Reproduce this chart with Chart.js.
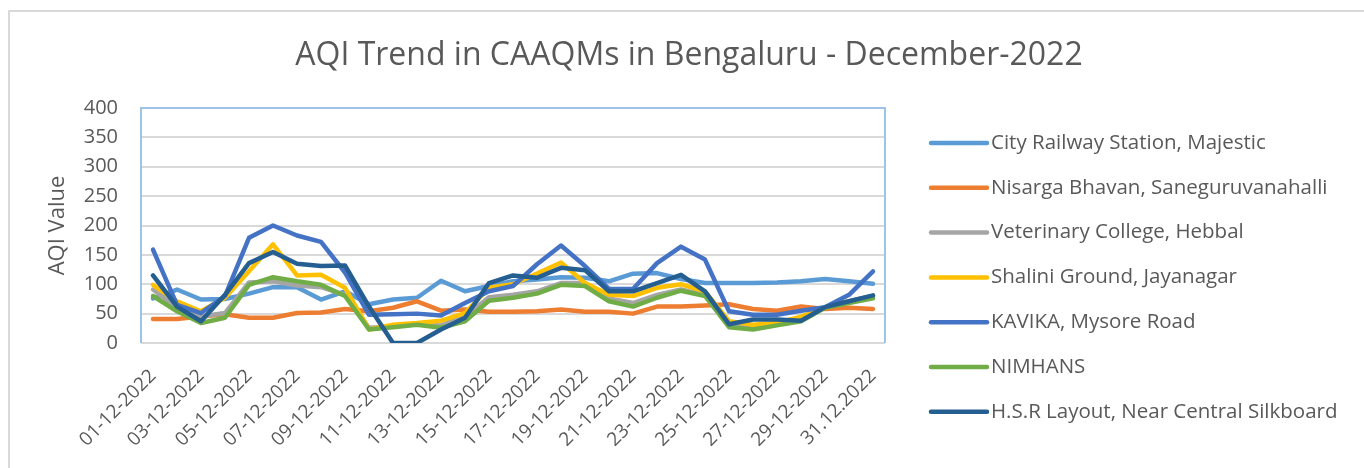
<!DOCTYPE html>
<html>
<head>
<meta charset="utf-8">
<script src="https://cdn.jsdelivr.net/npm/chart.js@4"></script>
<style>
    html, body { margin: 0; padding: 0; background: #fff; overflow: hidden; }
    #frame {
        position: absolute; left: 8px; top: 10px;
        width: 1400px; height: 500px;
        border: 2px solid #d9d9d9;
    }
    #aqiChart { position: absolute; left: 0; top: 0; }
</style>
</head>
<body>
<div id="frame"></div>
<canvas id="aqiChart" width="1364" height="468"></canvas>
<script>
const chartTitle = 'AQI Trend in CAAQMs in Bengaluru - December-2022';

const days = [
    '01-12-2022', '02-12-2022', '03-12-2022', '04-12-2022', '05-12-2022', '06-12-2022',
    '07-12-2022', '08-12-2022', '09-12-2022', '10-12-2022', '11-12-2022', '12-12-2022',
    '13-12-2022', '14-12-2022', '15-12-2022', '16-12-2022', '17-12-2022', '18-12-2022',
    '19-12-2022', '20-12-2022', '21-12-2022', '22-12-2022', '23-12-2022', '24-12-2022',
    '25-12-2022', '26-12-2022', '27-12-2022', '28-12-2022', '29-12-2022', '30-12-2022',
    '31.12.2022'
];

const stations = [
    'City Railway Station, Majestic',
    'Nisarga Bhavan, Saneguruvanahalli',
    'Veterinary College, Hebbal',
    'Shalini Ground, Jayanagar',
    'KAVIKA, Mysore Road',
    'NIMHANS',
    'H.S.R Layout, Near Central Silkboard'
];

const cityRailway = [76, 91, 74, 75, 84, 95, 95, 74, 88, 66, 74, 77, 106, 88, 97, 105, 108, 112, 111, 105, 118, 119, 109, 102, 102, 102, 103, 105, 109, 105, 101];
const nisarga     = [41, 41, 45, 49, 43, 43, 51, 52, 58, 54, 60, 71, 55, 57, 53, 53, 54, 57, 53, 53, 50, 62, 62, 64, 66, 58, 55, 62, 58, 60, 58];
const veterinary  = [91, 60, 45, 51, 103, 105, 98, 95, 82, 26, 28, 33, 30, 45, 78, 82, 88, 102, 102, 76, 68, 82, 91, 82, 31, 26, 32, 40, 60, 71, 80];
const shalini     = [99, 71, 54, 77, 122, 168, 115, 116, 94, 23, 31, 34, 38, 51, 94, 100, 118, 137, 102, 82, 80, 94, 100, 88, 37, 31, 34, 45, 60, 71, 77];
const kavika      = [159, 65, 51, 80, 179, 200, 183, 172, 120, 48, 49, 50, 47, 68, 88, 97, 134, 166, 131, 92, 92, 136, 164, 142, 54, 48, 48, 55, 61, 82, 122];
const nimhans     = [80, 54, 34, 43, 99, 112, 105, 99, 80, 23, 27, 31, 26, 37, 72, 77, 84, 99, 97, 71, 62, 77, 89, 80, 27, 23, 30, 37, 60, 68, 76];
const hsrLayout   = [115, 62, 37, 82, 136, 155, 135, 131, 132, 62, 0, 0, 23, 43, 102, 115, 111, 128, 124, 88, 88, 102, 116, 88, 32, 40, 40, 38, 61, 71, 81];

const colors = ['#5B9BD5', '#ED7D31', '#A5A5A5', '#FFC000', '#4472C4', '#70AD47', '#255E91'];
const seriesValues = [cityRailway, nisarga, veterinary, shalini, kavika, nimhans, hsrLayout];

const textColor = '#595959';
const fontFamily = '"Open Sans", "Noto Sans", sans-serif';

// frame around the plot area (light blue, like the excel plot area)
const plotBorder = {
    id: 'plotBorder',
    beforeDatasetsDraw(chart) {
        const a = chart.chartArea;
        const ctx = chart.ctx;
        ctx.save();
        ctx.strokeStyle = '#9DC3E6';
        ctx.lineWidth = 2;
        ctx.beginPath();
        ctx.moveTo(a.left, a.bottom);
        ctx.lineTo(a.left, a.top);
        ctx.lineTo(a.right, a.top);
        ctx.lineTo(a.right, a.bottom);
        ctx.stroke();
        ctx.restore();
    }
};

// title centred over the whole picture, not only the plot
const wideTitle = {
    id: 'wideTitle',
    afterDraw(chart, args, opts) {
        const ctx = chart.ctx;
        ctx.save();
        ctx.font = opts.fontSize + 'px ' + fontFamily;
        ctx.fillStyle = textColor;
        ctx.textAlign = 'center';
        ctx.textBaseline = 'middle';
        ctx.fillText(opts.text, opts.x, opts.y);
        ctx.restore();
    }
};

// legend on the right, drawn from the datasets
const sideLegend = {
    id: 'sideLegend',
    afterDraw(chart, args, opts) {
        const ctx = chart.ctx;
        ctx.save();
        ctx.font = opts.fontSize + 'px ' + fontFamily;
        ctx.textBaseline = 'middle';
        ctx.fillStyle = textColor;
        chart.data.datasets.forEach((ds, i) => {
            const y = opts.top + i * opts.step;
            ctx.strokeStyle = ds.borderColor;
            ctx.lineWidth = 4.5;
            ctx.lineCap = 'round';
            ctx.beginPath();
            ctx.moveTo(opts.left, y);
            ctx.lineTo(opts.left + opts.lineLength, y);
            ctx.stroke();
            ctx.fillText(ds.label, opts.left + opts.lineLength + 4, y);
        });
        ctx.restore();
    }
};

const ctx = document.getElementById('aqiChart');
const chart = new Chart(ctx, {
    type: 'line',
    data: {
        labels: days,
        datasets: stations.map((name, i) => ({
            label: name,
            data: seriesValues[i],
            borderColor: colors[i],
            backgroundColor: colors[i],
            borderWidth: 4.5,
            pointRadius: 0,
            tension: 0,
            borderJoinStyle: 'round',
            borderCapStyle: 'round',
            order: stations.length - i
        }))
    },
    options: {
        responsive: false,
        animation: false,
        layout: {
            padding: { left: 30, right: 479, top: 108, bottom: 0 }
        },
        plugins: {
            legend: { display: false },
            tooltip: { enabled: false },
            title: { display: false },
            wideTitle: { text: chartTitle, x: 689, y: 56, fontSize: 32 },
            sideLegend: { left: 931, top: 143, step: 44.8, lineLength: 56, fontSize: 20.5 }
        },
        scales: {
            x: {
                offset: true,
                grid: { display: false },
                border: { display: false },
                ticks: {
                    autoSkip: false,
                    minRotation: 45,
                    maxRotation: 45,
                    padding: 14,
                    color: textColor,
                    font: { family: fontFamily, size: 19 },
                    callback: function(value, index) {
                        return index % 2 === 0 ? this.getLabelForValue(value) : '';
                    }
                },
                afterFit: scale => { scale.height = 125; }
            },
            y: {
                min: 0,
                max: 400,
                border: { display: false },
                grid: {
                    color: c => c.tick.value === 400 ? 'rgba(0,0,0,0)' : '#d9d9d9',
                    lineWidth: 2,
                    drawTicks: false
                },
                ticks: {
                    stepSize: 50,
                    padding: 23,
                    color: textColor,
                    font: { family: fontFamily, size: 20 }
                },
                title: {
                    display: true,
                    text: 'AQI Value',
                    color: textColor,
                    font: { family: fontFamily, size: 22 },
                    padding: { top: 15, bottom: 0 }
                },
                afterFit: scale => { scale.width = 111; }
            }
        }
    },
    plugins: [plotBorder, wideTitle, sideLegend]
});
</script>
</body>
</html>
